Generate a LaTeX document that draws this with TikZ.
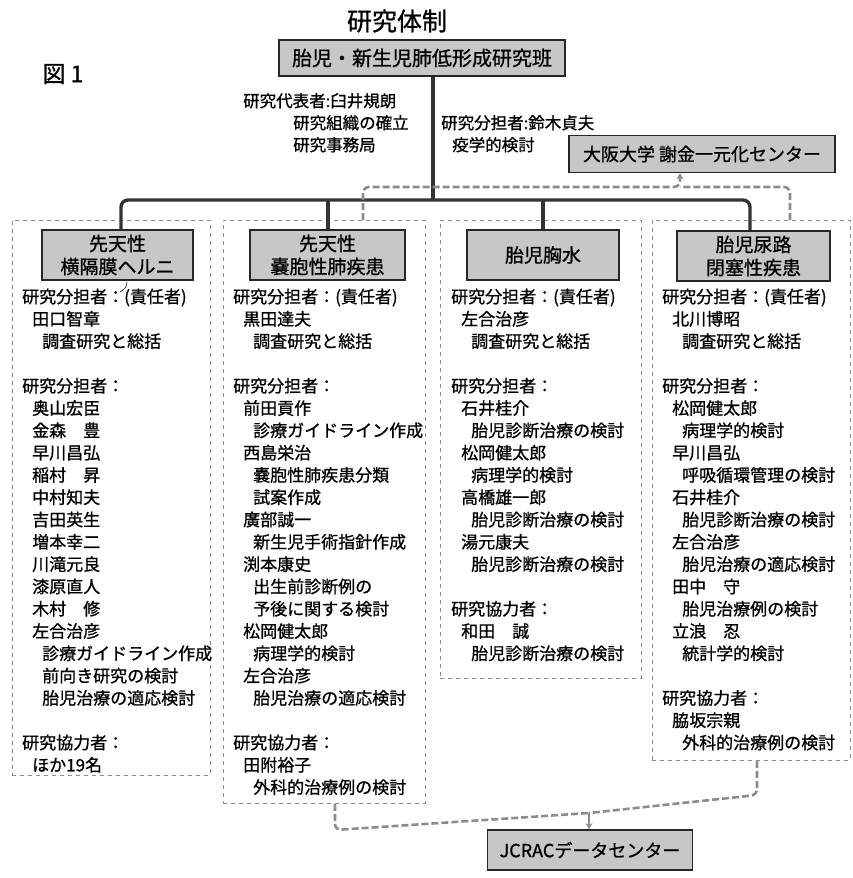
\documentclass[tikz,border=0pt]{standalone}
\usepackage{fontspec}
\setmainfont{Noto Sans CJK JP}[FakeBold=0.9]
\usetikzlibrary{arrows.meta}
\begin{document}
\begin{tikzpicture}[x=1pt,y=-1pt,
  hbox/.style={draw=black!85,line width=2.2pt,fill=black!22,align=center,inner sep=0pt,font=\fontsize{19}{23}\selectfont},
  colbox/.style={draw=black!45,line width=0.8pt,dash pattern=on 4pt off 4pt,inner sep=0pt,anchor=north west},
  tree/.style={draw=black!80,line width=3.4pt,rounded corners=7pt},
  gconn/.style={draw=black!45,line width=2.6pt,dash pattern=on 7pt off 3pt,rounded corners=6pt},
  ct/.style={inner sep=0pt,anchor=base west,font=\fontsize{17}{20}\selectfont},
  tt/.style={inner sep=0pt,anchor=base west,font=\fontsize{16.5}{20}\selectfont}]
\useasboundingbox (0,0) rectangle (853,878);
% column frames
\node[colbox,minimum width=198pt,minimum height=555pt] (col1) at (12,220) {};
\node[colbox,minimum width=202pt,minimum height=583pt] (col2) at (223,220) {};
\node[colbox,minimum width=201pt,minimum height=458pt] (col3) at (440,220) {};
\node[colbox,minimum width=198pt,minimum height=540pt] (col4) at (652,220) {};
% title
\node[inner sep=0pt,font=\fontsize{25}{28}\selectfont] (title) at (397,21) {研究体制};
\node[inner sep=0pt,font=\fontsize{23}{26}\selectfont] (fig) at (63,74) {図 1};
% top box
\node[hbox,minimum width=286pt,minimum height=36pt,font=\fontsize{20}{24}\selectfont] (top) at (422,58) {胎児・新生児肺低形成研究班};
\node[hbox,minimum width=266pt,minimum height=37pt,line width=1.8pt,font=\fontsize{18}{22}\selectfont] (osaka) at (702,154) {大阪大学\ 謝金一元化センター};
% top texts
\node[tt] (rep) at (243,107) {研究代表者:臼井規朗};
\node[tt] (rep2) at (293,129) {研究組織の確立};
\node[tt] (rep3) at (293,151) {研究事務局};
\node[tt] (suz) at (441,129) {研究分担者:鈴木貞夫};
\node[tt] (suz2) at (452,151) {疫学的検討};
% header boxes
\node[hbox,minimum width=151pt,minimum height=50pt] (box1) at (117.5,255) {先天性\\横隔膜ヘルニ};
\node[hbox,minimum width=155pt,minimum height=50pt] (box2) at (327.5,255) {先天性\\嚢胞性肺疾患};
\node[hbox,minimum width=152pt,minimum height=50pt] (box3) at (543,255) {胎児胸水};
\node[hbox,minimum width=153pt,minimum height=50pt] (box4) at (753.5,256) {胎児尿路\\閉塞性疾患};
% tree
\coordinate (stem) at (433,200);
\coordinate (bL) at (121,200);
\coordinate (bR) at (750,200);
\coordinate (d2) at (328,200);
\coordinate (d3) at (543,200);
\draw[tree] (stem |- top.south) -- (stem);
\draw[tree] (bL |- box1.north) -- (bL) -- (bR) -- (bR |- box4.north);
\draw[tree] (d2) -- (d2 |- box2.north);
\draw[tree] (d3) -- (d3 |- box3.north);
\draw[black!70,line width=0.8pt] (127,282) .. controls (126,288) .. (120,292);
% redraw boxes on top of tree
\node[hbox,minimum width=151pt,minimum height=50pt] at (box1) {先天性\\横隔膜ヘルニ};
\node[hbox,minimum width=155pt,minimum height=50pt] at (box2) {先天性\\嚢胞性肺疾患};
\node[hbox,minimum width=152pt,minimum height=50pt] at (box3) {胎児胸水};
\node[hbox,minimum width=153pt,minimum height=50pt] at (box4) {胎児尿路\\閉塞性疾患};
% osaka connector
\coordinate (oL) at (363,187);
\coordinate (oR) at (790,187);
\coordinate (oj) at (680,187);
\draw[gconn] (oL |- col2.north) -- (oL) -- (oj) -- (oj |- osaka.south);
\draw[gconn] (oR |- col4.north) -- (oR) -- (oj);
\draw[black!45,line width=1.6pt,-{Stealth[length=6pt,width=7pt]}] (680,180) -- (oj |- osaka.south);
% column texts
\foreach \l/\i/\t in {0/1/研究分担者：(責任者),1/2/田口智章,2/3/調査研究と総括,0/5/研究分担者：,1/6/奥山宏臣,1/7/金森　豊,1/8/早川昌弘,1/9/稲村　昇,1/10/中村知夫,1/11/吉田英生,1/12/増本幸二,1/13/川滝元良,1/14/漆原直人,1/15/木村　修,1/16/左合治彦,2/17/診療ガイドライン作成,2/18/前向き研究の検討,2/19/胎児治療の適応検討,0/21/研究協力者：,1/22/ほか19名}
  \node[ct] (ca\i) at ({22+10*\l},{303+22.3*(\i-1)}) {\t};
\foreach \l/\i/\t in {0/1/研究分担者：(責任者),1/2/黒田達夫,2/3/調査研究と総括,0/5/研究分担者：,1/6/前田貢作,2/7/診療ガイドライン作成,1/8/西島栄治,2/9/嚢胞性肺疾患分類,2/10/試案作成,1/11/廣部誠一,2/12/新生児手術指針作成,1/13/渕本康史,2/14/出生前診断例の,2/15/予後に関する検討,1/16/松岡健太郎,2/17/病理学的検討,1/18/左合治彦,2/19/胎児治療の適応検討,0/21/研究協力者：,1/22/田附裕子,2/23/外科的治療例の検討}
  \node[ct] (cb\i) at ({233+10*\l},{303+22.3*(\i-1)}) {\t};
\foreach \l/\i/\t in {0/1/研究分担者：(責任者),1/2/左合治彦,2/3/調査研究と総括,0/5/研究分担者：,1/6/石井桂介,2/7/胎児診断治療の検討,1/8/松岡健太郎,2/9/病理学的検討,1/10/高橋雄一郎,2/11/胎児診断治療の検討,1/12/湯元康夫,2/13/胎児診断治療の検討,0/15/研究協力者：,1/16/和田　誠,2/17/胎児診断治療の検討}
  \node[ct] (cc\i) at ({451+10*\l},{303+22.3*(\i-1)}) {\t};
\foreach \l/\i/\t in {0/1/研究分担者：(責任者),1/2/北川博昭,2/3/調査研究と総括,0/5/研究分担者：,1/6/松岡健太郎,2/7/病理学的検討,1/8/早川昌弘,2/9/呼吸循環管理の検討,1/10/石井桂介,2/11/胎児診断治療の検討,1/12/左合治彦,2/13/胎児治療の適応検討,1/14/田中　守,2/15/胎児治療例の検討,1/16/立浪　忍,2/17/統計学的検討,0/19/研究協力者：,1/20/脇坂宗親,2/21/外科的治療例の検討}
  \node[ct] (cd\i) at ({662+10*\l},{303+22.3*(\i-1)}) {\t};
% JCRAC
\node[hbox,minimum width=205pt,minimum height=40pt,line width=1.8pt,font=\fontsize{18}{22}\selectfont] (jcrac) at (590,850) {JCRACデータセンター};
\coordinate (jL) at (335,830);
\coordinate (jR) at (757,795);
\coordinate (jj) at (589,813);
\draw[gconn] (jL |- col2.south) -- (jL) -- (jj);
\draw[gconn] (jR |- col4.south) -- (jR) -- (jj);
\draw[black!45,line width=1.8pt,-{Stealth[length=6pt,width=7pt]}] (jj) -- (jj |- jcrac.north);
\end{tikzpicture}
\end{document}
